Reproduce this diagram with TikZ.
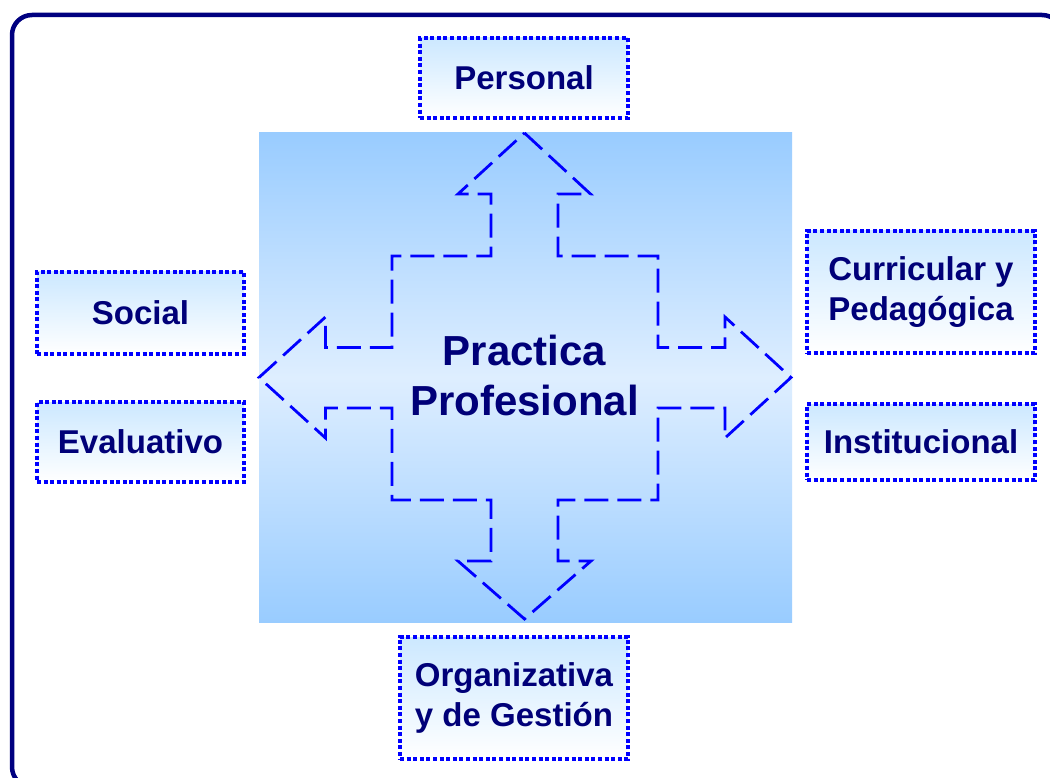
\documentclass[tikz,border=0pt]{standalone}
\usepackage{fontspec}
\setmainfont{Liberation Sans}
\definecolor{frameNavy}{RGB}{0,0,128}
\definecolor{textNavy}{RGB}{0,0,120}
\definecolor{dotBlue}{RGB}{0,0,255}
\definecolor{squareBlue}{RGB}{153,204,255}
\definecolor{squareLight}{RGB}{222,238,255}
\definecolor{boxTop}{RGB}{204,232,255}
\begin{document}
\begin{tikzpicture}[x=1pt,y=-1pt,
  frame/.style={draw=frameNavy,line width=4.5pt,rounded corners=20pt},
  aspect/.style={draw=dotBlue,line width=4.4pt,dash pattern=on 4pt off 2.6pt,
    top color=boxTop,bottom color=white,text=textNavy,
    font=\fontsize{33}{40}\selectfont\bfseries,align=center,inner sep=0pt},
  crossline/.style={draw=dotBlue,line width=2.8pt,dash pattern=on 24pt off 9pt,line join=miter},
  core/.style={text=textNavy,font=\fontsize{42}{50}\selectfont\bfseries,align=center,inner sep=0pt}]
\useasboundingbox (0,0) rectangle (1050,778);
\fill[white] (0,0) rectangle (1050,778);
% outer rounded frame, running past the right and bottom edges
\draw[frame] (12,15) rectangle (1062,787);
% central square with a vertical light band
\fill[top color=squareBlue,bottom color=squareBlue,middle color=squareLight] (259,133) rectangle (792,622);
% four-way dashed arrow
\draw[crossline] (524.5,133) -- (590.5,194) -- (558,194) -- (558,256) -- (658,256)
  -- (658,347.5) -- (725,347.5) -- (725,317) -- (791,377.5) -- (725,438) -- (725,408)
  -- (658,408) -- (658,500) -- (558,500) -- (558,561) -- (591,561) -- (524.5,619)
  -- (458,561) -- (491,561) -- (491,500) -- (392,500) -- (392,408) -- (325.5,408)
  -- (325.5,438) -- (259,377.5) -- (325.5,317) -- (325.5,347.5) -- (392,347.5)
  -- (392,256) -- (491,256) -- (491,194) -- (458,194) -- cycle;
\node[core] (practica) at (524.5,375) {Practica\\Profesional};
% surrounding dimensions
\node[aspect,minimum width=208pt,minimum height=80pt] (personal) at (524,78) {Personal};
\node[aspect,minimum width=207pt,minimum height=82pt] (social) at (140.5,313) {Social};
\node[aspect,minimum width=207pt,minimum height=80pt] (evaluativo) at (140.5,442) {Evaluativo};
\node[aspect,minimum width=228pt,minimum height=122pt] (curricular) at (921,292) {Curricular y\\Pedagógica};
\node[aspect,minimum width=228pt,minimum height=76pt] (institucional) at (921,442) {Institucional};
\node[aspect,minimum width=228pt,minimum height=122pt] (organizativa) at (514,698) {Organizativa\\y de Gestión};
\end{tikzpicture}
\end{document}
